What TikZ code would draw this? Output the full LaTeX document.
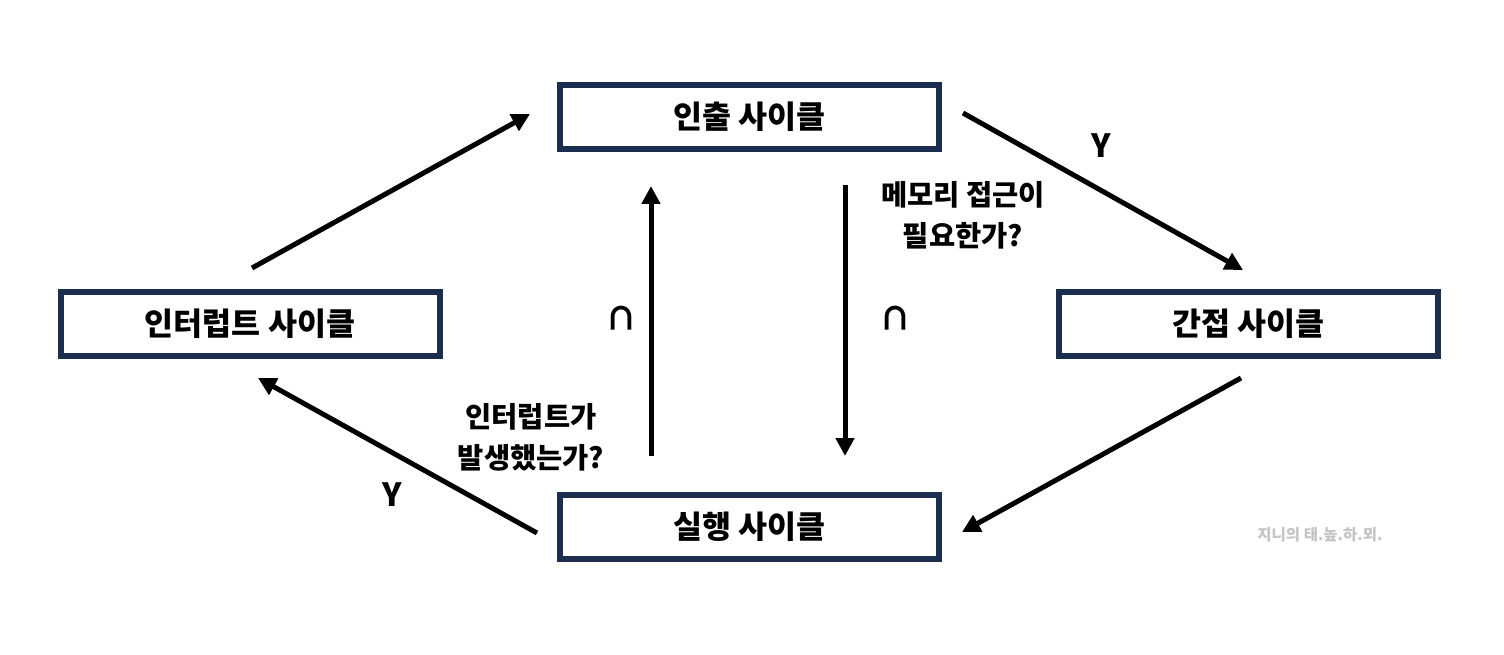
\documentclass[tikz,border=0pt]{standalone}
\usepackage{fontspec}
\usetikzlibrary{arrows.meta}
\newfontfamily\kr{Noto Sans CJK KR}
\definecolor{boxnavy}{HTML}{1C2E4F}
\definecolor{wmgray}{HTML}{C4C4C4}
\tikzset{
  cyclebox/.style={draw=boxnavy, line width=6pt, fill=white, minimum width=379pt, minimum height=64pt, inner sep=0pt, font=\kr\bfseries\fontsize{31.5}{34}\selectfont},
  flow/.style={line width=5pt, -{Triangle[length=18pt,width=18pt]}},
  lbl/.style={font=\kr\bfseries\fontsize{28.5}{41}\selectfont, align=center},
  yn/.style={font=\kr\bfseries\fontsize{32}{34}\selectfont},
}
\begin{document}
\begin{tikzpicture}[x=1pt,y=-1pt]
\useasboundingbox[fill=white] (0,0) rectangle (1504,655);
\node[cyclebox] (fetch) at (749.5,117) {인출 사이클};
\node[cyclebox] (intr) at (250,323.5) {인터럽트 사이클};
\node[cyclebox] (indir) at (1248.5,323.5) {간접 사이클};
\node[cyclebox] (exec) at (749.5,526.5) {실행 사이클};

\coordinate (a1s) at (252,268); \coordinate (a1e) at (530,114);
\coordinate (a2s) at (963,113); \coordinate (a2e) at (1243,270);
\coordinate (a3s) at (1241,378); \coordinate (a3e) at (962,532);
\coordinate (a4s) at (537,533); \coordinate (a4e) at (258,378);
\coordinate (a5s) at (651,456); \coordinate (a5e) at (651,186);
\coordinate (a6s) at (845,185); \coordinate (a6e) at (845,456);

\draw[flow] (a1s) -- (a1e);
\draw[flow] (a2s) -- (a2e);
\draw[flow] (a3s) -- (a3e);
\draw[flow] (a4s) -- (a4e);
\draw[flow] (a5s) -- (a5e);
\draw[flow] (a6s) -- (a6e);

\node[yn] (y1) at (1101,146) {Y};
\node[yn] (y2) at (392,495) {Y};
\node[yn] (n1) at (621,318) {∩};
\node[yn] (n2) at (895,318) {∩};
\node[lbl] (q1) at (963,215) {메모리 접근이\\필요한가?};
\node[lbl] (q2) at (531,437) {인터럽트가\\발생했는가?};
\node[font=\kr\bfseries\fontsize{15.5}{17}\selectfont, text=wmgray] (wm) at (1320,535) {지니의 태.높.하.뫼.};
\end{tikzpicture}
\end{document}
